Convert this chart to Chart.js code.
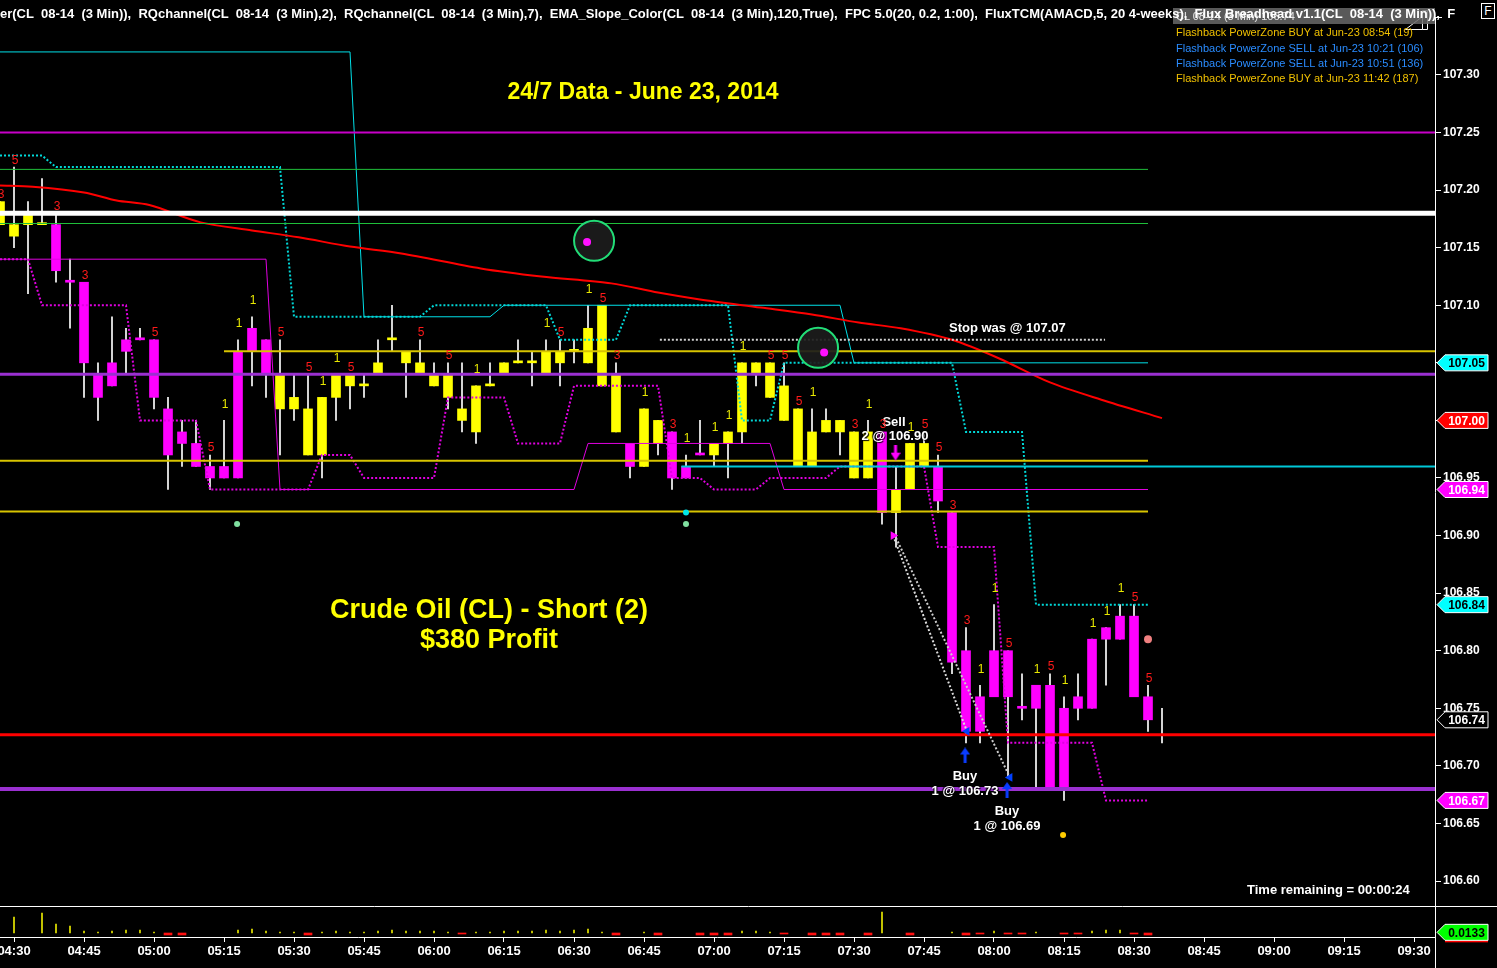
<!DOCTYPE html>
<html>
<head>
<meta charset="utf-8">
<title>CL 08-14 (3 Min)</title>
<script src="https://cdn.jsdelivr.net/npm/chart.js"></script>
<style>
  html, body { margin:0; padding:0; background:#000; overflow:hidden; }
  #wrap { position:relative; width:1497px; height:968px; background:#000; }
  #c { position:absolute; left:0; top:0; }
  #ov { position:absolute; left:0; top:0; width:1497px; height:968px; pointer-events:none; }
  .t { position:absolute; white-space:nowrap; font-family:"Liberation Sans", Arial, Helvetica, sans-serif; line-height:1; }
</style>
</head>
<body>
<div id="wrap">
  <canvas id="c" width="1497" height="968"></canvas>
  <div id="ov"></div>
</div>
<script>
// ======================= DATA =======================
const barStartMinute = -3;   // minutes after 04:30 of first visible bar
const barStepMinutes = 3;

const opens = [
 107.17,107.16,107.17,107.17,107.17,107.12,107.12,107.04,107.05,107.07,
 107.07,107.07,107.01,106.99,106.98,106.96,106.96,107.06,107.08,107.07,
 107.01,107.01,106.97,106.97,107.02,107.03,107.03,107.04,107.07,107.05,
 107.04,107.03,107.02,107.00,106.99,107.03,107.04,107.05,107.05,107.04,
 107.05,107.06,107.05,107.03,106.99,106.98,106.96,106.98,106.99,106.96,
 106.97,106.97,106.98,106.99,107.04,107.02,107.00,106.96,106.96,106.99,
 106.99,106.95,106.95,106.99,106.92,106.94,106.96,106.96,106.92,106.80,
 106.76,106.80,106.80,106.75,106.77,106.77,106.75,106.76,106.81,106.82,
 106.83,106.83,106.76,106.74];
const highs = [
 107.19,107.22,107.19,107.21,107.18,107.14,107.12,107.05,107.09,107.08,
 107.08,107.07,107.02,107.00,107.00,106.97,107.00,107.07,107.09,107.07,
 107.07,107.04,107.04,107.02,107.04,107.04,107.04,107.07,107.10,107.06,
 107.07,107.05,107.05,107.05,107.03,107.05,107.05,107.07,107.06,107.07,
 107.07,107.07,107.10,107.10,107.05,106.98,107.01,107.00,106.99,106.97,
 107.00,106.98,106.99,107.05,107.05,107.05,107.05,107.01,107.01,107.01,
 107.00,106.99,107.00,106.99,106.96,106.98,106.99,106.97,106.92,106.82,
 106.77,106.84,106.80,106.78,106.77,106.78,106.76,106.78,106.81,106.82,
 106.84,106.84,106.77,106.75];
const lows = [
 107.17,107.15,107.11,107.17,107.12,107.08,107.02,107.00,107.03,107.04,
 107.07,107.01,106.94,106.96,106.96,106.94,106.95,106.95,107.03,107.02,
 106.97,107.00,106.97,106.95,107.00,107.01,107.02,107.04,107.06,107.02,
 107.04,107.03,107.01,106.99,106.98,107.03,107.04,107.05,107.03,107.04,
 107.03,107.05,107.05,107.03,106.99,106.95,106.96,106.97,106.94,106.95,
 106.97,106.96,106.95,106.98,107.03,107.02,107.00,106.96,106.96,106.99,
 106.97,106.95,106.95,106.91,106.89,106.94,106.96,106.92,106.78,106.72,
 106.72,106.76,106.69,106.74,106.68,106.68,106.67,106.74,106.75,106.77,
 106.81,106.76,106.73,106.72];
const closes = [
 107.19,107.17,107.18,107.17,107.13,107.12,107.05,107.02,107.03,107.06,
 107.07,107.02,106.97,106.98,106.96,106.95,106.95,106.95,107.06,107.04,
 107.04,107.02,107.01,107.02,107.04,107.04,107.03,107.05,107.07,107.06,
 107.05,107.04,107.04,107.01,107.03,107.03,107.05,107.05,107.05,107.06,
 107.06,107.06,107.08,107.10,107.04,106.96,107.01,107.00,106.95,106.95,
 106.97,106.98,106.99,107.05,107.05,107.05,107.03,107.01,106.99,107.00,
 107.00,106.99,106.99,106.92,106.94,106.98,106.98,106.93,106.79,106.73,
 106.73,106.76,106.76,106.75,106.75,106.68,106.68,106.75,106.75,106.81,
 106.81,106.76,106.74,106.74];
// Y = yellow bar, M = magenta bar, W = unfinished bar (wick only)
const barColors = ("YYYY" + "MMMMMMMMMMMMMMMM" + "YYYYYYYYYYYYYYYYYYYYYYYYY" + "M" + "YY" + "MMM" +
                   "YYYYYYYYYYYY" + "M" + "YYY" + "MMMMMMMMMMMMMMMM" + "W").split("");

// channel values per bar (bars 0..82)
const cyanDotted = [
 107.23,107.23,107.23,107.23,107.22,107.22,107.22,107.22,107.22,107.22,
 107.22,107.22,107.22,107.22,107.22,107.22,107.22,107.22,107.22,107.22,
 107.22,107.09,107.09,107.09,107.09,107.09,107.09,107.09,107.09,107.09,
 107.09,107.10,107.10,107.10,107.10,107.10,107.10,107.10,107.10,107.10,
 107.07,107.07,107.07,107.07,107.07,107.10,107.10,107.10,107.10,107.10,
 107.10,107.10,107.10,107.00,107.00,107.00,107.05,107.05,107.05,107.05,
 107.05,107.05,107.05,107.05,107.05,107.05,107.05,107.05,107.05,106.99,
 106.99,106.99,106.99,106.99,106.84,106.84,106.84,106.84,106.84,106.84,
 106.84,106.84,106.84];
const cyanSolid = [
 107.32,107.32,107.32,107.32,107.32,107.32,107.32,107.32,107.32,107.32,
 107.32,107.32,107.32,107.32,107.32,107.32,107.32,107.32,107.32,107.32,
 107.32,107.32,107.32,107.32,107.32,107.32,107.09,107.09,107.09,107.09,
 107.09,107.09,107.09,107.09,107.09,107.09,107.10,107.10,107.10,107.10,
 107.10,107.10,107.10,107.10,107.10,107.10,107.10,107.10,107.10,107.10,
 107.10,107.10,107.10,107.10,107.10,107.10,107.10,107.10,107.10,107.10,
 107.10,107.05,107.05,107.05,107.05,107.05,107.05,107.05,107.05,107.05,
 107.05,107.05,107.05,107.05,107.05,107.05,107.05,107.05,107.05,107.05,
 107.05,107.05,107.05];
const magentaSolid = [
 107.14,107.14,107.14,107.14,107.14,107.14,107.14,107.14,107.14,107.14,
 107.14,107.14,107.14,107.14,107.14,107.14,107.14,107.14,107.14,107.14,
 106.94,106.94,106.94,106.94,106.94,106.94,106.94,106.94,106.94,106.94,
 106.94,106.94,106.94,106.94,106.94,106.94,106.94,106.94,106.94,106.94,
 106.94,106.94,106.98,106.98,106.98,106.98,106.98,106.98,106.98,106.98,
 106.98,106.98,106.98,106.98,106.98,106.98,106.94,106.94,106.94,106.94,
 106.94,106.94,106.94,106.94,106.94,106.94,106.94,106.94,106.94,106.94,
 106.94,106.94,106.94,106.94,106.94,106.94,106.94,106.94,106.94,106.94,
 106.94,106.94,106.94];
const magentaDotted = [
 107.14,107.14,107.14,107.10,107.10,107.10,107.10,107.10,107.10,107.10,
 107.00,107.00,107.00,107.00,107.00,106.94,106.94,106.94,106.94,106.94,
 106.94,106.94,106.94,106.97,106.97,106.97,106.95,106.95,106.95,106.95,
 106.95,106.95,107.02,107.02,107.02,107.02,107.02,106.98,106.98,106.98,
 106.98,107.03,107.03,107.03,107.03,107.03,107.03,107.03,106.95,106.95,
 106.95,106.94,106.94,106.94,106.94,106.95,106.95,106.95,106.95,106.95,
 106.96,106.96,106.96,106.96,106.96,106.96,106.96,106.89,106.89,106.89,
 106.89,106.89,106.72,106.72,106.72,106.72,106.72,106.72,106.72,106.67,
 106.67,106.67,106.67];

// EMA(120): minute, price
const emaMinutes = [-3,4,15,22,29,40,51,61,72,83,100,113,128,138,147,160,171,181,190,201,211,222,233,246];
const emaPrices  = [107.204,107.203,107.198,107.191,107.187,107.172,107.165,107.159,107.151,107.145,
                    107.132,107.125,107.119,107.111,107.105,107.098,107.092,107.085,107.080,107.070,
                    107.054,107.033,107.018,107.002];

// horizontal levels
const whiteLevel = 107.18;
const magentaLevel = 107.25;
const greenLevels = [107.218, 107.171];
const purpleLevels = [107.04, 106.68];
const yellowLevels = [107.06, 106.965, 106.921];
const redLevel = 106.727;
const cyanLevel = 106.96;
const stopLevel = 107.07;

// FluxTCM histogram per bar (positive = yellow, negative = red)
const fluxValues = [
 0, 0.32, 0, 0.40, 0.18, 0.14, 0.04, 0.02, 0.04, 0.06,
 0.06, 0.02, -0.04, -0.04, 0, 0, 0, 0.06, 0.08, 0.04,
 0.02, 0.02, -0.04, 0.02, 0.04, 0.02, 0.02, 0.04, 0.06, 0.04,
 0.04, 0.04, 0.02, -0.02, 0.02, 0.02, 0.04, 0.04, 0.04, 0.06,
 0.04, 0.06, 0.08, 0.02, -0.04, 0, 0.02, -0.04, 0, 0,
 -0.04, -0.04, -0.04, 0.04, 0.04, 0.02, -0.02, 0, -0.04, -0.04,
 -0.04, 0, -0.04, 0.42, 0, -0.04, 0, 0, 0.02, -0.04,
 -0.02, 0.04, -0.02, -0.02, 0.02, 0, -0.02, -0.02, 0.04, 0.06,
 0.06, -0.02, -0.04, 0];

// bar signal digits
const signalBars = [0,1,4,6,11,15,16,17,18,20,22,23,24,25,30,32,34,39,40,42,43,44,46,48,49,51,52,53,55,56,
                    57,58,61,62,63,65,66,67,68,69,70,71,72,74,75,76,78,79,80,81,82];
const signalDigits = ['3','5','3','3','5','5','1','1','1','5','5','1','1','5','5','5','1','1','5','1',
                      '5','3','1','3','1','1','1','1','5','5','5','1','3','1','3','1','5','5','3','3',
                      '1','1','5','1','5','1','1','1','1','5','5'];

// markers (minute, price)
const circleMinutes = [124.3, 172.3];   const circlePrices = [107.156, 107.063];
const pinkDotMinutes = [122.8, 173.6];  const pinkDotPrices = [107.155, 107.059];
const greenDotMinutes = [47.8, 144];    const greenDotPrices = [106.910, 106.910];
const cyanDotMinutes = [144];           const cyanDotPrices = [106.920];
const salmonDotMinutes = [243];         const salmonDotPrices = [106.810];
const goldDotMinutes = [224.8];         const goldDotPrices = [106.640];

// trades
const sellMinute = 188.4, sellPrice = 106.90;
const buyMinutes = [204.2, 213.4];  const buyPrices = [106.73, 106.69];
const sellArrowMinute = 188.9, sellArrowPrice = 106.972;
const buyArrowMinutes = [203.8, 212.8]; const buyArrowPrices = [106.709, 106.679];

// axes
const priceTicks = [106.60,106.65,106.70,106.75,106.80,106.85,106.90,106.95,107.00,107.05,107.10,107.15,107.20,107.25,107.30];
const timeTickMinutes = [0,15,30,45,60,75,90,105,120,135,150,165,180,195,210,225,240,255,270,285,300];
const timeTickLabels = ['04:30','04:45','05:00','05:15','05:30','05:45','06:00','06:15','06:30','06:45',
                        '07:00','07:15','07:30','07:45','08:00','08:15','08:30','08:45','09:00','09:15','09:30'];
const priceFlags = [107.05, 107.00, 106.94, 106.84, 106.74, 106.67];
const fluxFlag = 0.0133;

// ======================= BUILD =======================
const minuteOf = i => barStartMinute + i * barStepMinutes;
const colorMap = { Y: '#ffff00', M: '#ff00ff', W: 'rgba(0,0,0,0)' };
const xMin = -3, xMax = 304.5;
const yMax = 107.3651, yMin = 106.5783;
const indEnd = minuteOf(82);

function levelDs(p, from, to, color, width, order, dash) {
  return { type: 'line', data: [{ x: from, y: p }, { x: to, y: p }], borderColor: color, borderWidth: width,
    borderDash: dash || [], pointRadius: 0, order: order, yAxisID: 'y', tension: 0, fill: false, borderCapStyle: 'butt' };
}
function seriesDs(arr, color, width, order, dash) {
  return { type: 'line', data: arr.map((v, i) => ({ x: minuteOf(i), y: v })), borderColor: color, borderWidth: width,
    borderDash: dash || [], pointRadius: 0, order: order, yAxisID: 'y', tension: 0, fill: false, borderCapStyle: 'butt' };
}
function pointsDs(ms, ps, opts, order) {
  return Object.assign({ type: 'line', showLine: false, data: ms.map((m, i) => ({ x: m, y: ps[i] })), order: order, yAxisID: 'y' }, opts);
}
function arrowImg(color, up) {
  const c = document.createElement('canvas'); c.width = 10; c.height = 16;
  const g = c.getContext('2d'); g.fillStyle = color;
  if (up) {
    g.beginPath(); g.moveTo(5, 0); g.lineTo(10, 7); g.lineTo(0, 7); g.closePath(); g.fill();
    g.fillRect(3.5, 6, 3, 10);
  } else {
    g.fillRect(3.5, 0, 3, 9);
    g.beginPath(); g.moveTo(0, 8); g.lineTo(10, 8); g.lineTo(5, 16); g.closePath(); g.fill();
  }
  return c;
}

const datasets = [];
// candles
datasets.push({ type: 'bar', data: highs.map((h, i) => ({ x: minuteOf(i), y: [lows[i], h] })), backgroundColor: '#ffffff',
  barThickness: 1, grouped: false, order: 30, yAxisID: 'y', minBarLength: 1 });
datasets.push({ type: 'bar', data: opens.map((o, i) => ({ x: minuteOf(i), y: [o, closes[i]] })),
  backgroundColor: barColors.map(c => colorMap[c]), barThickness: 9, grouped: false, order: 29, yAxisID: 'y', minBarLength: 2 });
// flux histogram
datasets.push({ type: 'bar', data: fluxValues.map((v, i) => ({ x: minuteOf(i), y: v })).filter(d => d.y > 0),
  backgroundColor: '#e8e800', barThickness: 1, grouped: false, order: 28, yAxisID: 'yv' });
datasets.push({ type: 'bar', data: fluxValues.map((v, i) => ({ x: minuteOf(i), y: v })).filter(d => d.y < 0),
  backgroundColor: '#ff1010', barThickness: 8, grouped: false, order: 28, yAxisID: 'yv' });
// channels
datasets.push(seriesDs(cyanSolid, '#00e0e8', 1, 20));
datasets.push(seriesDs(magentaSolid, '#e000e0', 1, 20));
datasets.push(seriesDs(cyanDotted, '#00d8d8', 2, 19, [2, 2]));
datasets.push(seriesDs(magentaDotted, '#e000e0', 2, 19, [2, 2]));
// EMA
datasets.push({ type: 'line', data: emaMinutes.map((m, i) => ({ x: m, y: emaPrices[i] })), borderColor: '#ff0000', borderWidth: 2,
  pointRadius: 0, tension: 0.3, order: 18, yAxisID: 'y', fill: false });
// levels
datasets.push(levelDs(greenLevels[0], xMin, indEnd, '#1fbf3a', 1, 17));
datasets.push(levelDs(greenLevels[1], xMin, indEnd, '#1fbf3a', 1, 17));
datasets.push(levelDs(magentaLevel, xMin, xMax, '#c800c8', 2, 16));
datasets.push(levelDs(whiteLevel, xMin, xMax, '#ffffff', 5, 16));
datasets.push(levelDs(yellowLevels[0], 45, xMax, '#d8c400', 2, 16));
datasets.push(levelDs(yellowLevels[1], xMin, indEnd, '#d8c400', 2, 16));
datasets.push(levelDs(yellowLevels[2], xMin, indEnd, '#d8c400', 2, 16));
datasets.push(levelDs(cyanLevel, 143, xMax, '#00c8d8', 2, 16));
datasets.push(levelDs(purpleLevels[0], xMin, xMax, '#9a30d0', 3, 15));
datasets.push(levelDs(purpleLevels[1], xMin, xMax, '#9a30d0', 4, 15));
datasets.push(levelDs(redLevel, xMin, xMax, '#ff0000', 3, 15));
datasets.push(levelDs(stopLevel, 138.4, 233.8, '#d0d0d0', 2, 14, [2, 2]));
// trade lines
datasets.push({ type: 'line', data: [{ x: sellMinute, y: sellPrice }, { x: buyMinutes[0], y: buyPrices[0] }], borderColor: '#dddddd',
  borderWidth: 2, borderDash: [2, 2], pointRadius: 0, order: 10, yAxisID: 'y' });
datasets.push({ type: 'line', data: [{ x: sellMinute + 0.6, y: sellPrice - 0.002 }, { x: buyMinutes[1], y: buyPrices[1] }], borderColor: '#cccccc',
  borderWidth: 2, borderDash: [2, 2], pointRadius: 0, order: 10, yAxisID: 'y' });
// markers
datasets.push(pointsDs(circleMinutes, circlePrices, { pointRadius: 20, pointBackgroundColor: 'rgba(28,28,28,0.92)', pointBorderColor: '#22dd77', pointBorderWidth: 2 }, 5));
datasets.push(pointsDs(pinkDotMinutes, pinkDotPrices, { pointRadius: 4, pointBackgroundColor: '#ff10ff', pointBorderWidth: 0 }, 4));
datasets.push(pointsDs(greenDotMinutes, greenDotPrices, { pointRadius: 3, pointBackgroundColor: '#80e0a0', pointBorderWidth: 0 }, 4));
datasets.push(pointsDs(cyanDotMinutes, cyanDotPrices, { pointRadius: 3, pointBackgroundColor: '#00e8e8', pointBorderWidth: 0 }, 4));
datasets.push(pointsDs(salmonDotMinutes, salmonDotPrices, { pointRadius: 4, pointBackgroundColor: '#f08080', pointBorderWidth: 0 }, 4));
datasets.push(pointsDs(goldDotMinutes, goldDotPrices, { pointRadius: 3, pointBackgroundColor: '#ffcc00', pointBorderWidth: 0 }, 4));
datasets.push(pointsDs([sellMinute], [sellPrice], { pointStyle: 'triangle', rotation: 90, pointRadius: 5, pointBackgroundColor: '#ff00ff', pointBorderWidth: 0 }, 3));
datasets.push(pointsDs(buyMinutes, buyPrices, { pointStyle: 'triangle', rotation: 270, pointRadius: 5, pointBackgroundColor: '#0040ff', pointBorderWidth: 0 }, 3));
datasets.push(pointsDs([sellArrowMinute], [sellArrowPrice], { pointStyle: arrowImg('#ff00ff', false) }, 3));
datasets.push(pointsDs(buyArrowMinutes, buyArrowPrices, { pointStyle: arrowImg('#0a3cff', true) }, 3));

const flagStyles = [
  { fill: '#00ffff', text: '#000000' },
  { fill: '#ff0000', text: '#ffffff' },
  { fill: '#ff00ff', text: '#ffffff' },
  { fill: '#00ffff', text: '#000000' },
  { fill: '#000000', text: '#ffffff' },
  { fill: '#ff00ff', text: '#ffffff' }
];

function drawFlag(ctx, xl, y, fill, tc, label) {
  const h = 8;
  ctx.save();
  ctx.beginPath();
  ctx.moveTo(xl + 2, y); ctx.lineTo(xl + 10, y - h); ctx.lineTo(xl + 53, y - h); ctx.lineTo(xl + 53, y + h); ctx.lineTo(xl + 10, y + h); ctx.closePath();
  ctx.fillStyle = fill; ctx.fill();
  ctx.strokeStyle = '#ffffff'; ctx.lineWidth = 1; ctx.stroke();
  ctx.fillStyle = tc; ctx.font = 'bold 12px "Liberation Sans", Arial, sans-serif';
  ctx.textAlign = 'center'; ctx.textBaseline = 'middle';
  ctx.fillText(label, xl + 31.5, y + 1);
  ctx.restore();
}

const framePlugin = {
  id: 'frame',
  beforeDraw(chart) {
    const ctx = chart.ctx;
    ctx.save(); ctx.fillStyle = '#000'; ctx.fillRect(0, 0, chart.width, chart.height); ctx.restore();
  },
  afterDraw(chart) {
    const ctx = chart.ctx, a = chart.chartArea, yv = chart.scales.yv, y = chart.scales.y;
    ctx.save();
    ctx.strokeStyle = '#ffffff'; ctx.lineWidth = 1;
    ctx.beginPath();
    ctx.moveTo(0, Math.round(yv.top) + 0.5); ctx.lineTo(chart.width, Math.round(yv.top) + 0.5);
    ctx.moveTo(0, Math.round(a.bottom) + 0.5); ctx.lineTo(a.right, Math.round(a.bottom) + 0.5);
    ctx.moveTo(Math.round(a.right) + 0.5, 17); ctx.lineTo(Math.round(a.right) + 0.5, chart.height);
    ctx.moveTo(a.right, 17.5); ctx.lineTo(a.right + 7, 17.5);
    // small window widget near the header
    ctx.moveTo(a.right - 29.5, 29.5); ctx.lineTo(a.right - 12.5, 16.5);
    ctx.moveTo(a.right - 29.5, 29.5); ctx.lineTo(a.right - 12.5, 29.5);
    ctx.rect(a.right - 12.5, 10.5, 5, 19);
    ctx.stroke();
    ctx.restore();
    priceFlags.forEach((v, i) => drawFlag(ctx, a.right, y.getPixelForValue(v), flagStyles[i].fill, flagStyles[i].text, v.toFixed(2)));
    const fy = yv.getPixelForValue(fluxFlag);
    ctx.save(); ctx.fillStyle = '#ff0000'; ctx.fillRect(a.right + 10, fy + 8, 43, 2); ctx.restore();
    drawFlag(ctx, a.right, fy, '#00ff00', '#000000', fluxFlag.toFixed(4));
  }
};

Chart.defaults.font.family = '"Liberation Sans", Arial, Helvetica, sans-serif';
Chart.defaults.color = '#ffffff';

const chart = new Chart(document.getElementById('c'), {
  type: 'bar',
  data: { datasets: datasets },
  options: {
    responsive: false, animation: false, devicePixelRatio: 1,
    layout: { padding: 0, autoPadding: false },
    plugins: { legend: { display: false }, tooltip: { enabled: false } },
    events: [],
    scales: {
      x: {
        type: 'linear', min: xMin, max: xMax, offset: false, position: 'bottom',
        afterBuildTicks: s => { s.ticks = timeTickMinutes.map(v => ({ value: v })); },
        afterFit: s => { s.height = 31; s.paddingLeft = 0; s.paddingRight = 0; },
        ticks: { autoSkip: false, maxRotation: 0, minRotation: 0, color: '#ffffff', padding: 2,
                 font: { size: 13, weight: 'bold' }, callback: (v, i) => timeTickLabels[i] },
        grid: { display: true, drawOnChartArea: false, drawTicks: true, tickLength: 5, color: '#ffffff', offset: false },
        border: { display: false }
      },
      y: {
        type: 'linear', position: 'right', stack: 'panes', stackWeight: 906, min: yMin, max: yMax, offset: false,
        afterBuildTicks: s => { s.ticks = priceTicks.map(v => ({ value: v })); },
        afterFit: s => { s.width = 62; s.paddingTop = 0; s.paddingBottom = 0; },
        ticks: { color: '#ffffff', padding: 2, font: { size: 12, weight: 'bold' }, callback: v => v.toFixed(2) },
        grid: { display: true, drawOnChartArea: false, drawTicks: true, tickLength: 6, color: '#ffffff' },
        border: { display: false }
      },
      yv: {
        type: 'linear', position: 'right', stack: 'panes', stackWeight: 31, min: -0.08, max: 0.54, offset: false,
        afterFit: s => { s.width = 62; s.paddingTop = 0; s.paddingBottom = 0; },
        ticks: { display: false }, grid: { display: false }, border: { display: false }
      }
    }
  },
  plugins: [framePlugin]
});

// ======================= TEXT OVERLAY =======================
const ov = document.getElementById('ov');
function txt(s, x, yc, o) {
  o = o || {};
  const d = document.createElement('div');
  d.className = 't';
  d.textContent = s;
  const size = o.size || 12;
  d.style.fontSize = size + 'px';
  d.style.fontWeight = o.bold ? 'bold' : 'normal';
  d.style.color = o.color || '#ffffff';
  d.style.top = (yc - size * 0.5) + 'px';
  d.style.left = x + 'px';
  if (o.align === 'center') d.style.transform = 'translateX(-50%)';
  if (o.shadow) d.style.textShadow = o.shadow;
  ov.appendChild(d);
  return d;
}
const sx = chart.scales.x, sy = chart.scales.y;

const box = document.createElement('div');
box.style.cssText = 'position:absolute;left:1173px;top:8px;width:262px;height:16px;background:rgba(105,105,105,0.85);';
ov.appendChild(box);
txt('CL 08-14 (3 Min) 106.74', 1176, 16, { size: 11, color: '#e6e6e6' });
txt('er(CL  08-14  (3 Min)),  RQchannel(CL  08-14  (3 Min),2),  RQchannel(CL  08-14  (3 Min),7),  EMA_Slope_Color(CL  08-14  (3 Min),120,True),  FPC 5.0(20, 0.2, 1:00),  FluxTCM(AMACD,5, 20 4-weeks),  Flux Breadhead v1.1(CL  08-14  (3 Min)),  F',
    0, 13, { size: 13, bold: true, color: '#ffffff' }).style.whiteSpace = 'pre';
const fbox = document.createElement('div');
fbox.className = 't';
fbox.textContent = 'F';
fbox.style.cssText += 'left:1481px;top:3px;width:12px;height:14px;border:1px solid #fff;color:#fff;font-size:12px;text-align:center;line-height:14px;background:#000;';
ov.appendChild(fbox);

txt('Flashback PowerZone BUY at Jun-23 08:54 (19)', 1176, 32, { size: 11, color: '#f0c000' });
txt('Flashback PowerZone SELL at Jun-23 10:21 (106)', 1176, 48, { size: 11, color: '#2a8cff' });
txt('Flashback PowerZone SELL at Jun-23 10:51 (136)', 1176, 63, { size: 11, color: '#2a8cff' });
txt('Flashback PowerZone BUY at Jun-23 11:42 (187)', 1176, 78, { size: 11, color: '#f0c000' });

txt('24/7 Data - June 23, 2014', 643, 91, { size: 23, bold: true, color: '#ffff00', align: 'center' });
txt('Crude Oil (CL) - Short (2)', 489, 609, { size: 27, bold: true, color: '#ffff00', align: 'center' });
txt('$380 Profit', 489, 639, { size: 27, bold: true, color: '#ffff00', align: 'center' });

const sh = '1px 1px 1px #000, -1px -1px 1px #000';
txt('Stop was @ 107.07', 949, 327, { size: 13, bold: true, shadow: sh });
txt('Sell', 894, 421, { size: 13, bold: true, align: 'center', shadow: sh });
txt('2 @ 106.90', 895, 435, { size: 13, bold: true, align: 'center', shadow: sh });
txt('Buy', 965, 775, { size: 13, bold: true, align: 'center', shadow: sh });
txt('1 @ 106.73', 965, 790, { size: 13, bold: true, align: 'center', shadow: sh });
txt('Buy', 1007, 810, { size: 13, bold: true, align: 'center', shadow: sh });
txt('1 @ 106.69', 1007, 825, { size: 13, bold: true, align: 'center', shadow: sh });
txt('Time remaining = 00:00:24', 1247, 889, { size: 13, bold: true });

signalBars.forEach((b, k) => {
  const dgt = signalDigits[k];
  const px = sx.getPixelForValue(minuteOf(b)) + 1;
  const py = sy.getPixelForValue(highs[b]) - (dgt === '1' ? 16.5 : 7.5);
  txt(dgt, px, py, { size: 12, color: dgt === '1' ? '#e8e800' : '#ff1a1a', align: 'center' });
});
</script>
</body>
</html>
